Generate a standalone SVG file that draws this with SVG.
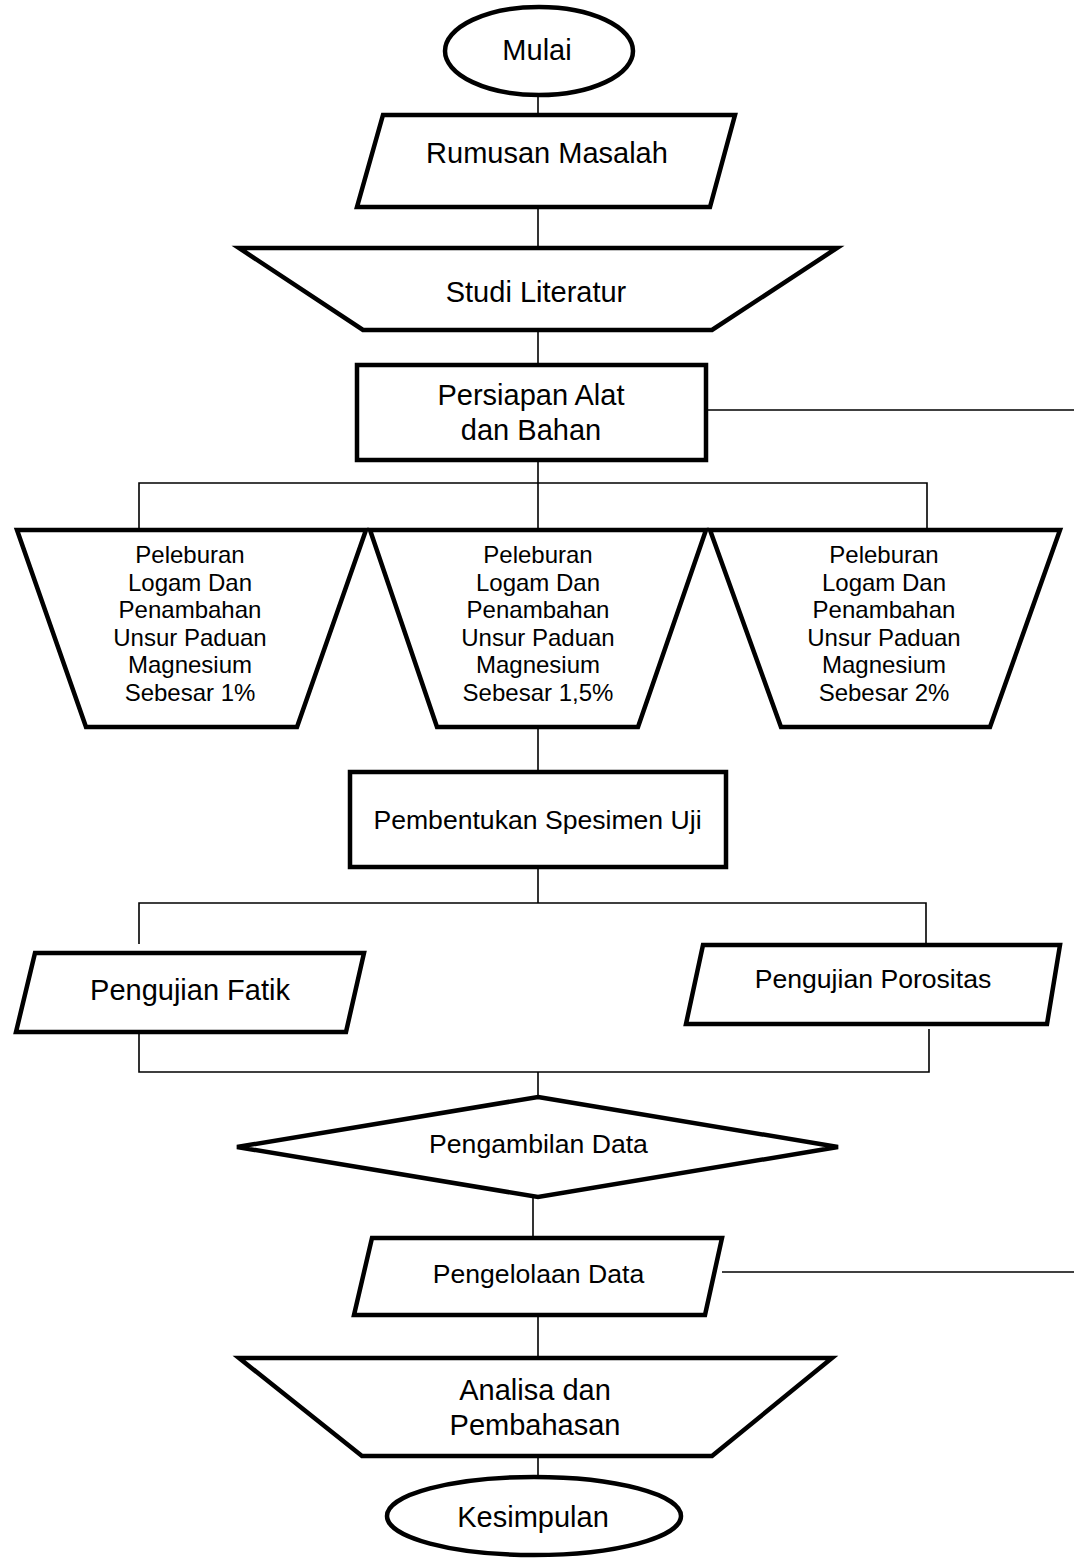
<svg xmlns="http://www.w3.org/2000/svg" width="1074" height="1558" viewBox="0 0 1074 1558">
<style>
.s{fill:#fff;stroke:#000;stroke-width:4.5;stroke-linejoin:miter}
.c{fill:none;stroke:#000;stroke-width:1.6}
text{font-family:"Liberation Sans",Arial,sans-serif;fill:#000;text-anchor:middle}
.f29{font-size:29px}
.f27{font-size:26.6px}
.f24{font-size:24px}
</style>
<rect width="1074" height="1558" fill="#fff"/>
<g id="connectors">
<line class="c" x1="538" y1="95" x2="538" y2="114"/>
<line class="c" x1="538" y1="207" x2="538" y2="247"/>
<line class="c" x1="538" y1="330" x2="538" y2="366"/>
<line class="c" x1="707" y1="410" x2="1074" y2="410"/>
<line class="c" x1="538" y1="460" x2="538" y2="529"/>
<polyline class="c" points="139,529 139,483 927,483 927,529"/>
<line class="c" x1="538" y1="727" x2="538" y2="771"/>
<line class="c" x1="538" y1="867" x2="538" y2="903"/>
<polyline class="c" points="139,944 139,903 926,903 926,945"/>
<polyline class="c" points="139,1033 139,1072 929,1072 929,1029"/>
<line class="c" x1="538" y1="1072" x2="538" y2="1096"/>
<line class="c" x1="533" y1="1198" x2="533" y2="1238"/>
<line class="c" x1="722" y1="1272" x2="1074" y2="1272"/>
<line class="c" x1="538" y1="1316" x2="538" y2="1357"/>
<line class="c" x1="538" y1="1456" x2="538" y2="1477"/>
</g>
<g id="mulai">
<ellipse class="s" cx="539" cy="51" rx="94" ry="44"/>
<text class="f29" x="537" y="60">Mulai</text>
</g>
<g id="rumusan">
<polygon class="s" points="383,115 735,115 710,207 357,207"/>
<text class="f29" x="547" y="163">Rumusan Masalah</text>
</g>
<g id="studi">
<polygon class="s" points="239,248 837,248 712,330 363,330"/>
<text class="f29" x="536" y="302">Studi Literatur</text>
</g>
<g id="persiapan">
<rect class="s" x="357" y="365" width="349" height="95"/>
<text class="f29" x="531" y="405">Persiapan Alat</text>
<text class="f29" x="531" y="440">dan Bahan</text>
</g>
<g id="peleburan1">
<polygon class="s" points="17,530 366,530 297,727 86,727"/>
<text class="f24" x="190"><tspan x="190" y="563">Peleburan</tspan><tspan x="190" y="590.6">Logam Dan</tspan><tspan x="190" y="618.2">Penambahan</tspan><tspan x="190" y="645.8">Unsur Paduan</tspan><tspan x="190" y="673.4">Magnesium</tspan><tspan x="190" y="701">Sebesar 1%</tspan></text>
</g>
<g id="peleburan2">
<polygon class="s" points="370,530 706,530 638,727 437,727"/>
<text class="f24" x="538"><tspan x="538" y="563">Peleburan</tspan><tspan x="538" y="590.6">Logam Dan</tspan><tspan x="538" y="618.2">Penambahan</tspan><tspan x="538" y="645.8">Unsur Paduan</tspan><tspan x="538" y="673.4">Magnesium</tspan><tspan x="538" y="701">Sebesar 1,5%</tspan></text>
</g>
<g id="peleburan3">
<polygon class="s" points="710,530 1060,530 990,727 781,727"/>
<text class="f24" x="884"><tspan x="884" y="563">Peleburan</tspan><tspan x="884" y="590.6">Logam Dan</tspan><tspan x="884" y="618.2">Penambahan</tspan><tspan x="884" y="645.8">Unsur Paduan</tspan><tspan x="884" y="673.4">Magnesium</tspan><tspan x="884" y="701">Sebesar 2%</tspan></text>
</g>
<g id="pembentukan">
<rect class="s" x="350" y="772" width="376" height="95"/>
<text class="f27" x="537.5" y="829">Pembentukan Spesimen Uji</text>
</g>
<g id="fatik">
<polygon class="s" points="35,953 364,953 346,1032 16,1032"/>
<text class="f29" x="190" y="1000">Pengujian Fatik</text>
</g>
<g id="porositas">
<polygon class="s" points="703,945 1060,945 1047,1024 686,1024"/>
<text class="f27" x="873" y="988">Pengujian Porositas</text>
</g>
<g id="pengambilan">
<polygon class="s" points="538,1097 838,1147 538,1197 237,1147"/>
<text class="f27" x="538.5" y="1153">Pengambilan Data</text>
</g>
<g id="pengelolaan">
<polygon class="s" points="372,1238 722,1238 705,1315 354,1315"/>
<text class="f27" x="538.5" y="1283">Pengelolaan Data</text>
</g>
<g id="analisa">
<polygon class="s" points="239,1358 832,1358 712,1456 362,1456"/>
<text class="f29" x="535" y="1400">Analisa dan</text>
<text class="f29" x="535" y="1435">Pembahasan</text>
</g>
<g id="kesimpulan">
<ellipse class="s" cx="534" cy="1516" rx="147" ry="39"/>
<text class="f29" x="533" y="1527">Kesimpulan</text>
</g>
</svg>
